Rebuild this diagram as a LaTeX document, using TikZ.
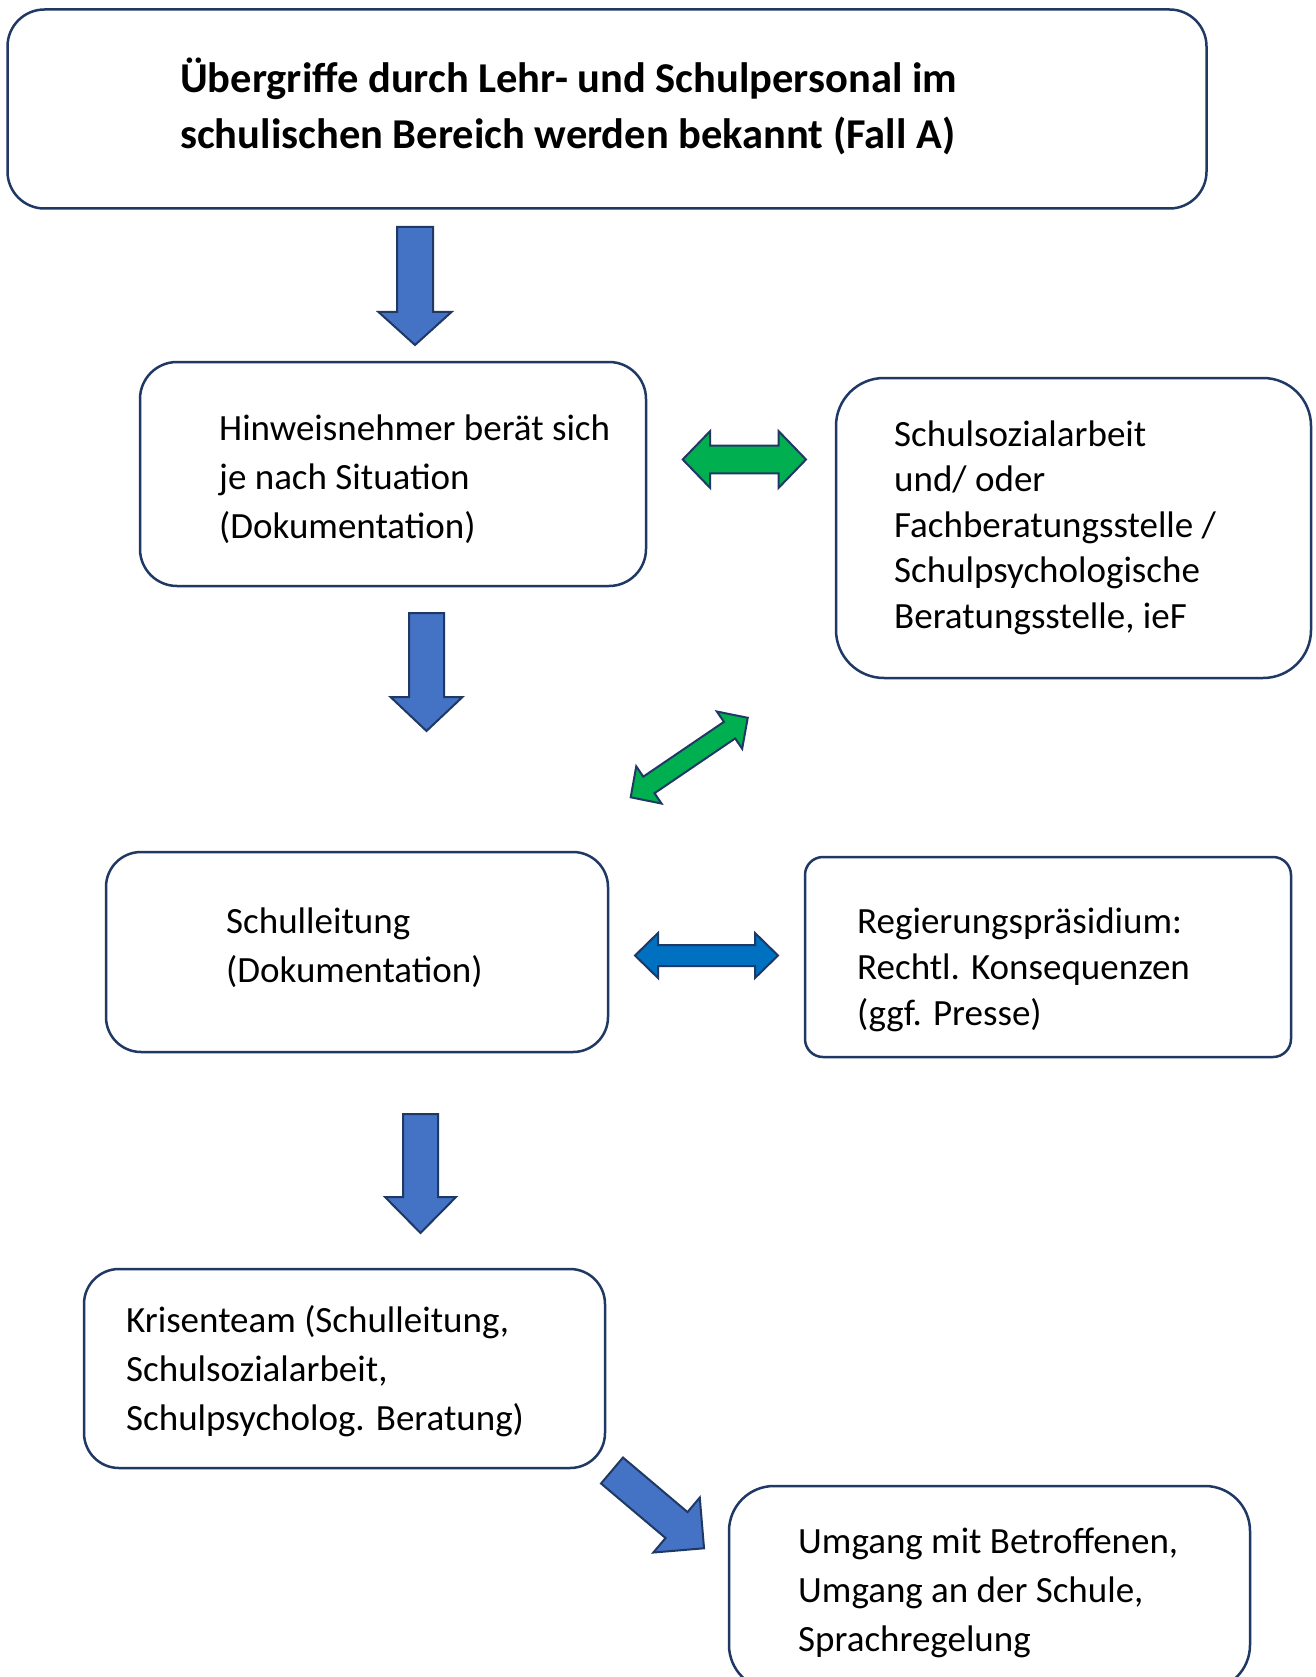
\documentclass[tikz,border=0pt]{standalone}
\usepackage{fontspec}
\setmainfont{Carlito}
\definecolor{navy}{RGB}{31,56,100}
\definecolor{arrblue}{RGB}{68,114,196}
\definecolor{arrgreen}{RGB}{0,176,80}
\definecolor{arrblue2}{RGB}{0,112,192}
\newcommand{\blockarr}[7]{%
  \draw[#1, shift={#2}, rotate=#3] (0,#5) -- ({#4-#7},#5) -- ({#4-#7},#6) -- (#4,0) -- ({#4-#7},-#6) -- ({#4-#7},-#5) -- (0,-#5) -- cycle;}
\newcommand{\dblarr}[7]{%
  \draw[#1, shift={#2}, rotate=#3] (0,0) -- (#7,#6) -- (#7,#5) -- ({#4-#7},#5) -- ({#4-#7},#6) -- (#4,0) -- ({#4-#7},-#6) -- ({#4-#7},-#5) -- (#7,-#5) -- (#7,-#6) -- cycle;}
\tikzset{
  box/.style={draw=navy, line width=2.5pt, fill=white, inner sep=0pt},
  txt/.style={anchor=base west, align=left, inner sep=0pt, font=\fontsize{37}{49}\selectfont},
  ttl/.style={anchor=base west, align=left, inner sep=0pt, font=\bfseries\fontsize{42.5}{56}\selectfont},
  arrA/.style={draw=navy, line width=2pt, fill=arrblue, line join=miter},
  arrG/.style={draw=navy, line width=2pt, fill=arrgreen, line join=miter},
  arrB/.style={draw=navy, line width=2pt, fill=arrblue2, line join=miter},
}
\begin{document}
\begin{tikzpicture}[x=1pt,y=-1pt]
\useasboundingbox[fill=white] (0,0) rectangle (1315,1677);
% boxes
\node[box, rounded corners=37pt, minimum width=1199pt, minimum height=199pt] (b1) at (607,109) {};
\node[box, rounded corners=37pt, minimum width=506pt, minimum height=224pt] (b2) at (393,474) {};
\node[box, rounded corners=48pt, minimum width=475pt, minimum height=300pt] (b3) at (1073.5,528) {};
\node[box, rounded corners=35pt, minimum width=502pt, minimum height=200pt] (b4) at (357,952) {};
\node[box, rounded corners=18pt, minimum width=486pt, minimum height=200pt] (b5) at (1048,957) {};
\node[box, rounded corners=35pt, minimum width=521pt, minimum height=199pt] (b6) at (344.5,1368.5) {};
\node[box, rounded corners=45pt, minimum width=521pt, minimum height=204pt] (b7) at (989.5,1588) {};
% texts (anchored at the baseline of the last line)
\node[ttl] (t1) at (180,149) {Übergriffe durch Lehr- und Schulpersonal im\\schulischen Bereich werden bekannt (Fall A)};
\node[txt] (t2) at (219,538) {Hinweisnehmer berät sich\\je nach Situation\\(Dokumentation)};
\node[txt, font=\fontsize{37}{45.5}\selectfont] (t3) at (894,628) {Schulsozialarbeit\\und/ oder\\Fachberatungsstelle /\\Schulpsychologische\\Beratungsstelle, ieF};
\node[txt] (t4) at (226,982) {Schulleitung\\(Dokumentation)};
\node[txt, font=\fontsize{37}{46}\selectfont] (t5) at (857,1025) {Regierungspräsidium:\\Rechtl. Konsequenzen\\(ggf. Presse)};
\node[txt] (t6) at (126,1430) {Krisenteam (Schulleitung,\\Schulsozialarbeit,\\Schulpsycholog. Beratung)};
\node[txt] (t7) at (798,1651) {Umgang mit Betroffenen,\\Umgang an der Schule,\\Sprachregelung};
% arrows
\blockarr{arrA}{(415,227)}{-90}{118}{18}{36.5}{33}
\blockarr{arrA}{(426.5,613)}{-90}{118}{17.5}{36}{34}
\blockarr{arrA}{(420.5,1114)}{-90}{119}{17.5}{35.5}{36}
\blockarr{arrA}{(612,1470.5)}{-40.2}{120.5}{17}{36}{36}
\dblarr{arrG}{(682.7,459.5)}{0}{123.3}{13.8}{28.5}{27.5}
\dblarr{arrG}{(630.7,797.3)}{34.2}{141.5}{10}{22.5}{22}
\dblarr{arrB}{(635,955.5)}{0}{143}{10.5}{22.5}{23}
\end{tikzpicture}
\end{document}
